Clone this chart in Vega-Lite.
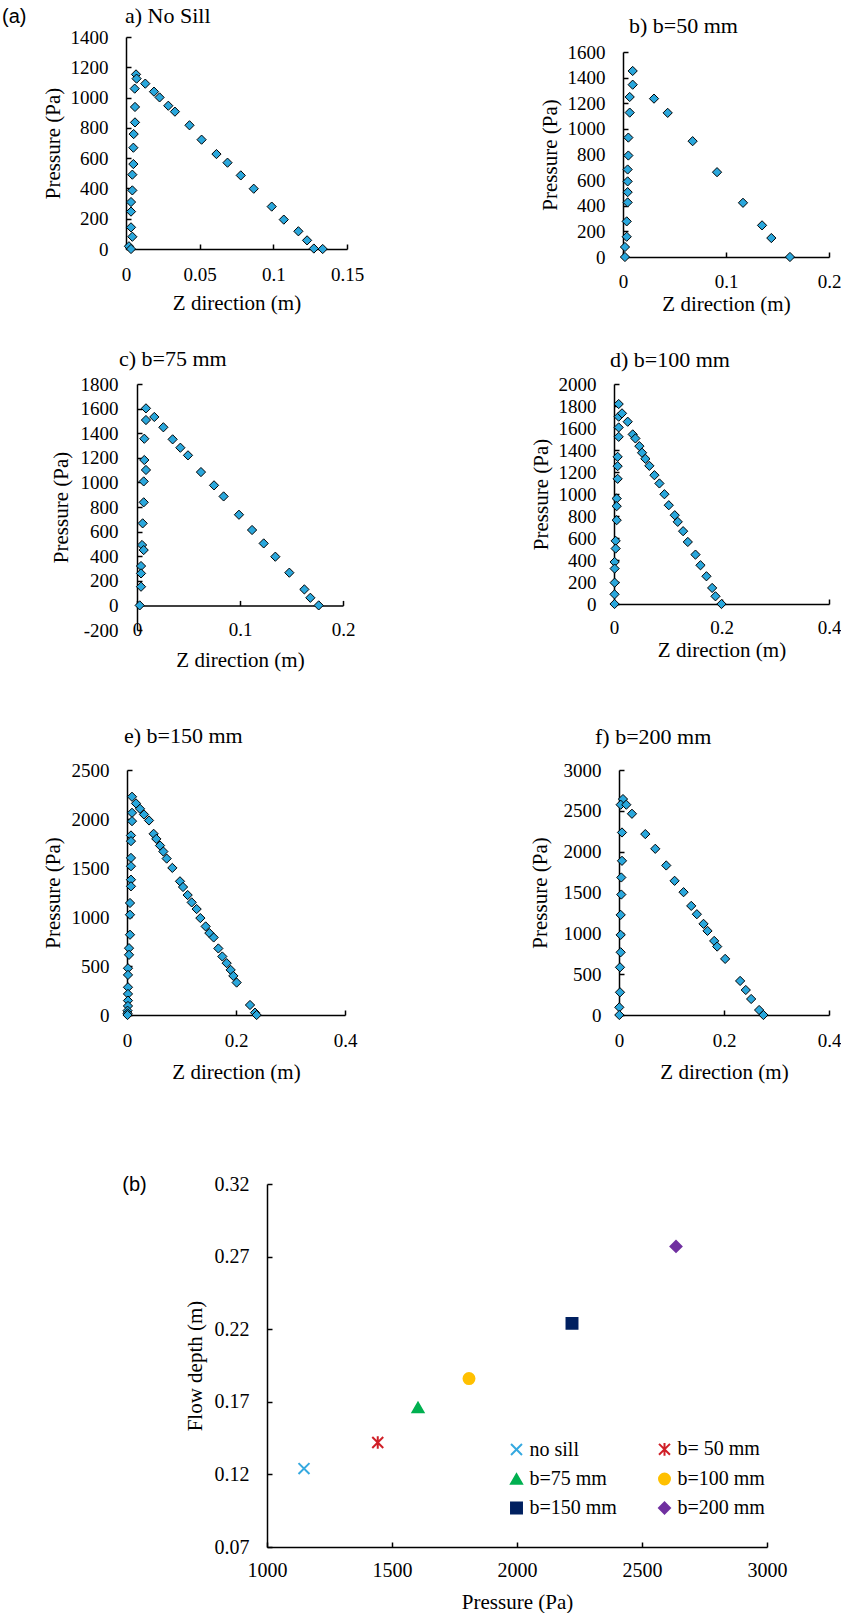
{
"$schema": "https://vega.github.io/schema/vega-lite/v6.json",
"padding": {"left": 2, "top": 5, "right": 0, "bottom": 0},
"background": "white",
"datasets": {
"pa": [{"z":0.0068,"p":1153},{"z":0.0072,"p":1125},{"z":0.0059,"p":1059},{"z":0.0061,"p":938},{"z":0.0061,"p":836},{"z":0.0052,"p":759},{"z":0.005,"p":669},{"z":0.005,"p":561},{"z":0.0043,"p":491},{"z":0.0043,"p":387},{"z":0.0034,"p":310},{"z":0.0034,"p":247},{"z":0.0034,"p":143},{"z":0.0043,"p":81},{"z":0.002,"p":18},{"z":0.0034,"p":0},{"z":0.0131,"p":1092},{"z":0.019,"p":1039},{"z":0.0228,"p":1001},{"z":0.0287,"p":946},{"z":0.0332,"p":907},{"z":0.0431,"p":817},{"z":0.0513,"p":722},{"z":0.0614,"p":627},{"z":0.0689,"p":570},{"z":0.0779,"p":486},{"z":0.0867,"p":398},{"z":0.0989,"p":280},{"z":0.1071,"p":194},{"z":0.117,"p":117},{"z":0.1229,"p":57},{"z":0.1275,"p":3},{"z":0.1335,"p":0}],
"pb": [{"z":0.0094,"p":1452},{"z":0.0094,"p":1345},{"z":0.0065,"p":1249},{"z":0.0065,"p":1127},{"z":0.0052,"p":932},{"z":0.0052,"p":792},{"z":0.0045,"p":683},{"z":0.0045,"p":590},{"z":0.0045,"p":506},{"z":0.0045,"p":426},{"z":0.0036,"p":278},{"z":0.0036,"p":158},{"z":0.0019,"p":78},{"z":0.0019,"p":0},{"z":0.0301,"p":1236},{"z":0.0434,"p":1125},{"z":0.0676,"p":904},{"z":0.0913,"p":662},{"z":0.1165,"p":423},{"z":0.135,"p":247},{"z":0.144,"p":148},{"z":0.1621,"p":0}],
"pc": [{"z":0.0087,"p":1602},{"z":0.0087,"p":1507},{"z":0.0071,"p":1355},{"z":0.0071,"p":1182},{"z":0.0087,"p":1101},{"z":0.0065,"p":1008},{"z":0.0065,"p":838},{"z":0.0055,"p":667},{"z":0.0049,"p":491},{"z":0.0065,"p":450},{"z":0.0039,"p":320},{"z":0.0039,"p":260},{"z":0.0039,"p":152},{"z":0.0026,"p":0},{"z":0.0168,"p":1532},{"z":0.0256,"p":1448},{"z":0.0346,"p":1350},{"z":0.0421,"p":1282},{"z":0.0495,"p":1220},{"z":0.0621,"p":1084},{"z":0.0748,"p":976},{"z":0.0841,"p":886},{"z":0.099,"p":737},{"z":0.1117,"p":613},{"z":0.123,"p":504},{"z":0.1343,"p":396},{"z":0.1479,"p":266},{"z":0.1625,"p":130},{"z":0.1683,"p":62},{"z":0.1764,"p":0}],
"pd": [{"z":0.0087,"p":1818},{"z":0.0087,"p":1703},{"z":0.0087,"p":1605},{"z":0.0087,"p":1520},{"z":0.0068,"p":1338},{"z":0.0068,"p":1253},{"z":0.0068,"p":1138},{"z":0.005,"p":959},{"z":0.005,"p":889},{"z":0.005,"p":762},{"z":0.0031,"p":574},{"z":0.0031,"p":504},{"z":0.0012,"p":382},{"z":0.0012,"p":322},{"z":0.0012,"p":194},{"z":0.001,"p":88},{"z":0.001,"p":0},{"z":0.0149,"p":1733},{"z":0.0255,"p":1657},{"z":0.0348,"p":1542},{"z":0.0398,"p":1505},{"z":0.0472,"p":1435},{"z":0.0522,"p":1375},{"z":0.0584,"p":1320},{"z":0.0658,"p":1256},{"z":0.0752,"p":1171},{"z":0.0845,"p":1096},{"z":0.0938,"p":998},{"z":0.1019,"p":898},{"z":0.113,"p":807},{"z":0.1186,"p":747},{"z":0.1286,"p":662},{"z":0.1373,"p":564},{"z":0.1516,"p":449},{"z":0.1609,"p":352},{"z":0.172,"p":252},{"z":0.1826,"p":146},{"z":0.1888,"p":70},{"z":0.2,"p":0}],
"pe": [{"z":0.0092,"p":2227},{"z":0.0092,"p":2063},{"z":0.0092,"p":1978},{"z":0.0073,"p":1832},{"z":0.0073,"p":1774},{"z":0.0073,"p":1603},{"z":0.0073,"p":1518},{"z":0.0073,"p":1381},{"z":0.0073,"p":1313},{"z":0.0055,"p":1143},{"z":0.0055,"p":1023},{"z":0.0055,"p":819},{"z":0.0037,"p":682},{"z":0.0037,"p":614},{"z":0.0018,"p":477},{"z":0.0018,"p":409},{"z":0.0018,"p":283},{"z":0.0018,"p":215},{"z":0.0018,"p":147},{"z":0.0018,"p":92},{"z":0.001,"p":44},{"z":0.001,"p":17},{"z":0.001,"p":0},{"z":0.0165,"p":2159},{"z":0.0239,"p":2104},{"z":0.0312,"p":2046},{"z":0.0404,"p":1985},{"z":0.0489,"p":1849},{"z":0.0538,"p":1797},{"z":0.0606,"p":1729},{"z":0.0667,"p":1668},{"z":0.0728,"p":1596},{"z":0.0832,"p":1501},{"z":0.0972,"p":1364},{"z":0.1028,"p":1306},{"z":0.1113,"p":1224},{"z":0.1187,"p":1149},{"z":0.1278,"p":1081},{"z":0.1346,"p":989},{"z":0.1443,"p":904},{"z":0.1511,"p":836},{"z":0.159,"p":791},{"z":0.1676,"p":679},{"z":0.1749,"p":597},{"z":0.1829,"p":529},{"z":0.1902,"p":460},{"z":0.1951,"p":399},{"z":0.2012,"p":331},{"z":0.2257,"p":102},{"z":0.2349,"p":24},{"z":0.2379,"p":0}],
"pf": [{"z":0.0076,"p":2644},{"z":0.0032,"p":2575},{"z":0.0057,"p":2235},{"z":0.0057,"p":1888},{"z":0.0044,"p":1684},{"z":0.0044,"p":1475},{"z":0.0032,"p":1226},{"z":0.0032,"p":981},{"z":0.0032,"p":768},{"z":0.0019,"p":584},{"z":0.0019,"p":278},{"z":0.0006,"p":94},{"z":0.0006,"p":0},{"z":0.0139,"p":2575},{"z":0.0247,"p":2464},{"z":0.0501,"p":2215},{"z":0.0691,"p":2035},{"z":0.09,"p":1831},{"z":0.1059,"p":1643},{"z":0.123,"p":1504},{"z":0.1376,"p":1336},{"z":0.1483,"p":1234},{"z":0.161,"p":1116},{"z":0.1686,"p":1030},{"z":0.1813,"p":907},{"z":0.187,"p":838},{"z":0.2022,"p":687},{"z":0.2307,"p":417},{"z":0.2415,"p":306},{"z":0.2517,"p":196},{"z":0.2669,"p":61},{"z":0.2751,"p":0}],
"depth": [{"case":"no sill","pressure":1148,"depth":0.124},{"case":"b= 50 mm","pressure":1443,"depth":0.142},{"case":"b=75 mm","pressure":1604,"depth":0.166},{"case":"b=100 mm","pressure":1808,"depth":0.186},{"case":"b=150 mm","pressure":2220,"depth":0.224},{"case":"b=200 mm","pressure":2636,"depth":0.277}],
"labels": [{"t":"(b)"}]
},
"spacing": 0,
"resolve": {"scale": {"color": "independent", "stroke": "independent", "shape": "independent"}},
"vconcat": [
{"hconcat": [
 {"width":124,"height":1,"title":{"text":"(a)","font":"Liberation Sans, Arial, sans-serif","fontSize":20,"offset":10},"mark":{"type":"point","opacity":0,"size":1},"encoding":{}},
 {"width":221,"height":212,"title":{"text":"a) No Sill","offset":0,"dx":-1},"data":{"name":"pa"},
  "mark":{"type":"point","shape":"diamond","filled":true,"fill":"#2AA7DC","stroke":"#000000","strokeWidth":1,"size":85,"opacity":1},
  "encoding":{
   "x":{"field":"z","type":"quantitative","scale":{"domain":[0,0.15],"nice":false},"axis":{"title":"Z direction (m)","values":[0,0.05,0.1,0.15],"labelExpr":"'' + datum.value","labelPadding":21.5,"titlePadding":8}},
   "y":{"field":"p","type":"quantitative","scale":{"domain":[0,1400],"nice":false},"axis":{"title":"Pressure (Pa)","values":[0,200,400,600,800,1000,1200,1400],"labelExpr":"'' + datum.value","labelPadding":23,"titlePadding":6.5}}}},
 {"width":276,"height":311,"mark":{"type":"point","opacity":0,"size":1},"encoding":{}},
 {"vconcat": [
  {"width":206,"height":15,"mark":{"type":"point","opacity":0,"size":1},"encoding":{}},
  {"width":206,"height":205,"title":{"text":"b) b=50 mm","offset":5,"dx":6},"data":{"name":"pb"},
   "mark":{"type":"point","shape":"diamond","filled":true,"fill":"#2AA7DC","stroke":"#000000","strokeWidth":1,"size":85,"opacity":1},
   "encoding":{
    "x":{"field":"z","type":"quantitative","scale":{"domain":[0,0.2],"nice":false},"axis":{"title":"Z direction (m)","values":[0,0.1,0.2],"labelExpr":"'' + datum.value","labelPadding":20.5,"titlePadding":2}},
    "y":{"field":"p","type":"quantitative","scale":{"domain":[0,1600],"nice":false},"axis":{"title":"Pressure (Pa)","values":[0,200,400,600,800,1000,1200,1400,1600],"labelExpr":"'' + datum.value","labelPadding":23,"titlePadding":6.5}}}}
 ], "spacing": 0, "bounds": "flush"}
], "spacing": 0, "bounds": "flush"},
{"hconcat": [
 {"width":135,"height":341,"mark":{"type":"point","opacity":0,"size":1},"encoding":{}},
 {"width":206,"height":246,"title":{"text":"c) b=75 mm","offset":4,"dx":-18},"data":{"name":"pc"},
  "mark":{"type":"point","shape":"diamond","filled":true,"fill":"#2AA7DC","stroke":"#000000","strokeWidth":1,"size":85,"opacity":1},
  "encoding":{
   "x":{"field":"z","type":"quantitative","scale":{"domain":[0,0.2],"nice":false},"axis":{"title":"Z direction (m)","values":[0,0.1,0.2],"labelExpr":"'' + datum.value","offset":-24.6,"labelPadding":20.5,"titlePadding":10}},
   "y":{"field":"p","type":"quantitative","scale":{"domain":[-200,1800],"nice":false},"axis":{"title":"Pressure (Pa)","values":[-200,0,200,400,600,800,1000,1200,1400,1600,1800],"labelExpr":"'' + datum.value","labelPadding":24,"titlePadding":8.5}}}},
 {"width":271,"height":1,"mark":{"type":"point","opacity":0,"size":1},"encoding":{}},
 {"width":215,"height":220,"title":{"text":"d) b=100 mm","offset":3,"dx":-4},"data":{"name":"pd"},
  "mark":{"type":"point","shape":"diamond","filled":true,"fill":"#2AA7DC","stroke":"#000000","strokeWidth":1,"size":85,"opacity":1},
  "encoding":{
   "x":{"field":"z","type":"quantitative","scale":{"domain":[0,0.4],"nice":false},"axis":{"title":"Z direction (m)","values":[0,0.2,0.4],"labelExpr":"'' + datum.value","labelPadding":19.5,"titlePadding":2}},
   "y":{"field":"p","type":"quantitative","scale":{"domain":[0,2000],"nice":false},"axis":{"title":"Pressure (Pa)","values":[0,200,400,600,800,1000,1200,1400,1600,1800,2000],"labelExpr":"'' + datum.value","labelPadding":23,"titlePadding":6.5}}}}
], "spacing": 0, "bounds": "flush"},
{"hconcat": [
 {"width":125,"height":404,"mark":{"type":"point","opacity":0,"size":1},"encoding":{}},
 {"width":218,"height":245,"title":{"text":"e) b=150 mm","offset":13,"dx":-3},"data":{"name":"pe"},
  "mark":{"type":"point","shape":"diamond","filled":true,"fill":"#2AA7DC","stroke":"#000000","strokeWidth":1,"size":85,"opacity":1},
  "encoding":{
   "x":{"field":"z","type":"quantitative","scale":{"domain":[0,0.4],"nice":false},"axis":{"title":"Z direction (m)","values":[0,0.2,0.4],"labelExpr":"'' + datum.value","labelPadding":21.5,"titlePadding":11}},
   "y":{"field":"p","type":"quantitative","scale":{"domain":[0,2500],"nice":false},"axis":{"title":"Pressure (Pa)","values":[0,500,1000,1500,2000,2500],"labelExpr":"'' + datum.value","labelPadding":23,"titlePadding":7.5}}}},
 {"width":274,"height":1,"mark":{"type":"point","opacity":0,"size":1},"encoding":{}},
 {"width":210,"height":245,"title":{"text":"f) b=200 mm","offset":12,"dx":-24},"data":{"name":"pf"},
  "mark":{"type":"point","shape":"diamond","filled":true,"fill":"#2AA7DC","stroke":"#000000","strokeWidth":1,"size":85,"opacity":1},
  "encoding":{
   "x":{"field":"z","type":"quantitative","scale":{"domain":[0,0.4],"nice":false},"axis":{"title":"Z direction (m)","values":[0,0.2,0.4],"labelExpr":"'' + datum.value","labelPadding":21.5,"titlePadding":11}},
   "y":{"field":"p","type":"quantitative","scale":{"domain":[0,3000],"nice":false},"axis":{"title":"Pressure (Pa)","values":[0,500,1000,1500,2000,2500,3000],"labelExpr":"'' + datum.value","labelPadding":23,"titlePadding":12.5}}}}
], "spacing": 0, "bounds": "flush"},
{"hconcat": [
 {"width":265,"height":2,"data":{"name":"labels"},"mark":{"type":"text","font":"Liberation Sans, Arial, sans-serif","fontSize":20,"color":"#000000"},"encoding":{"text":{"field":"t","type":"nominal"}}},
 {"width":500,"height":363,"data":{"name":"depth"},
  "mark":{"type":"point","filled":true,"size":120,"strokeWidth":2,"opacity":1},
  "encoding":{
   "x":{"field":"pressure","type":"quantitative","scale":{"domain":[1000,3000],"nice":false},"axis":{"title":"Pressure (Pa)","values":[1000,1500,2000,2500,3000],"labelExpr":"'' + datum.value","labelFontSize":20,"labelPadding":18,"titlePadding":11.5}},
   "y":{"field":"depth","type":"quantitative","scale":{"domain":[0.07,0.32],"nice":false},"axis":{"title":"Flow depth (m)","values":[0.07,0.12,0.17,0.22,0.27,0.32],"labelExpr":"'' + datum.value","labelFontSize":20,"labelPadding":23,"titlePadding":8.5}},
   "color":{"field":"case","type":"nominal","scale":{"domain":["no sill","b= 50 mm","b=75 mm","b=100 mm","b=150 mm","b=200 mm"],"range":["#35A9E0","#D01F27","#00B050","#FFC000","#002060","#7030A0"]},
    "legend":{"orient":"none","legendX":239.5,"legendY":255,"direction":"horizontal","columns":2,"title":null,"labelFont":"Liberation Serif, Times New Roman, serif","labelFontSize":20,"labelColor":"#000000","symbolSize":120,"symbolStrokeWidth":2,"columnPadding":37,"rowPadding":9,"labelOffset":3,"padding":0}},
   "stroke":{"field":"case","type":"nominal","scale":{"domain":["no sill","b= 50 mm","b=75 mm","b=100 mm","b=150 mm","b=200 mm"],"range":["#35A9E0","#D01F27","#00B050","#FFC000","#002060","#7030A0"]},
    "legend":{"orient":"none","legendX":239.5,"legendY":255,"direction":"horizontal","columns":2,"title":null,"labelFont":"Liberation Serif, Times New Roman, serif","labelFontSize":20,"labelColor":"#000000","symbolSize":120,"symbolStrokeWidth":2,"columnPadding":37,"rowPadding":9,"labelOffset":3,"padding":0}},
   "shape":{"field":"case","type":"nominal","scale":{"domain":["no sill","b= 50 mm","b=75 mm","b=100 mm","b=150 mm","b=200 mm"],"range":["M-1,-1L1,1M-1,1L1,-1","M-1,-1L1,1M-1,1L1,-1M0,-1.15L0,1.15","triangle-up","circle","square","diamond"]},
    "legend":{"orient":"none","legendX":239.5,"legendY":255,"direction":"horizontal","columns":2,"title":null,"labelFont":"Liberation Serif, Times New Roman, serif","labelFontSize":20,"labelColor":"#000000","symbolSize":120,"symbolStrokeWidth":2,"columnPadding":37,"rowPadding":9,"labelOffset":3,"padding":0}}}}
], "spacing": 0, "bounds": "flush", "resolve": {"scale": {"color": "independent", "stroke": "independent", "shape": "independent"}}}
],
"config": {
 "view": {"stroke": null},
 "font": "Liberation Serif, Times New Roman, serif",
 "text": {"font": "Liberation Serif, Times New Roman, serif"},
 "axis": {"grid": false, "domainColor": "#000000", "domainWidth": 1.5, "tickColor": "#000000", "tickWidth": 1.5, "tickSize": -5, "labelColor": "#000000", "titleColor": "#000000", "labelFont": "Liberation Serif, Times New Roman, serif", "titleFont": "Liberation Serif, Times New Roman, serif", "labelFontSize": 19, "titleFontSize": 21, "titleFontWeight": "normal", "labelOverlap": false, "labelFlush": false, "labelBound": false},
 "legend": {"labelFont": "Liberation Serif, Times New Roman, serif"},
 "title": {"font": "Liberation Serif, Times New Roman, serif", "fontSize": 22, "fontWeight": "normal", "color": "#000000", "anchor": "start", "frame": "group"}
}
}
